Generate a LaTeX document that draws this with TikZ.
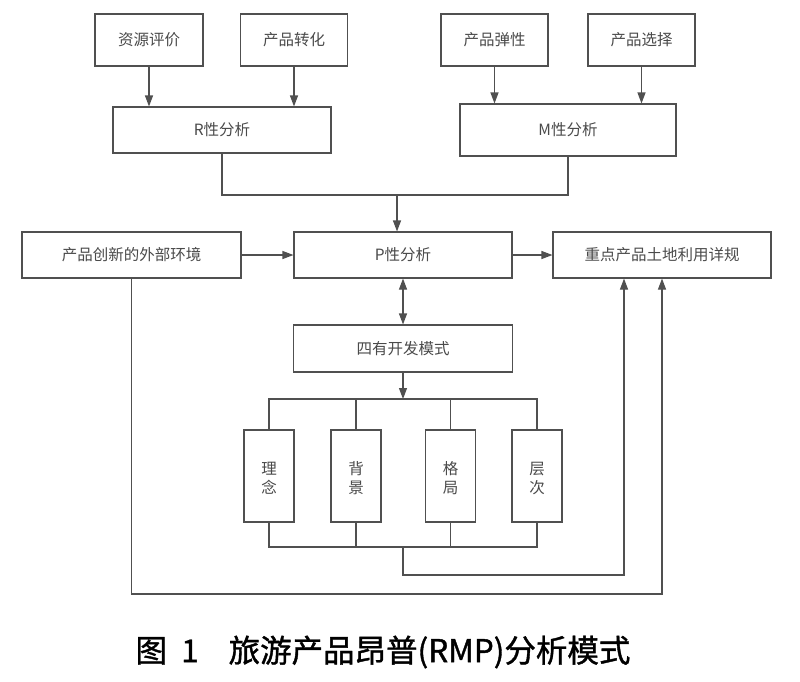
\documentclass[tikz,border=0pt]{standalone}
\usepackage{fontspec}
\setmainfont{Noto Sans CJK SC}
\newfontfamily\capfont{Noto Sans CJK SC}[FakeBold=1.2]
\usetikzlibrary{arrows.meta}
\definecolor{ln}{HTML}{505050}
\definecolor{tx}{HTML}{4A4A4A}
\newcommand{\vtxt}[2]{\raisebox{-7.5pt}[0pt][0pt]{\begin{tabular}{@{}c@{}}#1\\[0pt]#2\end{tabular}}}
\begin{document}
\begin{tikzpicture}[x=1pt,y=-1pt,
  box/.style={draw=ln, line width=1.1pt, rectangle, inner sep=0pt, text=tx,
    font=\fontsize{15.5}{18}\selectfont, anchor=center},
  vbox/.style={box, font=\fontsize{15.5}{19.5}\selectfont,
    minimum width=50pt, minimum height=92pt},
  link/.style={draw=ln, line width=1.1pt},
  arr/.style={link, -{Triangle[length=11pt,width=8pt]}},
  darr/.style={link, {Triangle[length=11pt,width=8pt]}-{Triangle[length=11pt,width=8pt]}},
]
\useasboundingbox (0,0) rectangle (800,681);
\fill[white] (0,0) rectangle (800,681);

% top row
\node[box, minimum width=108pt, minimum height=52pt] (zy) at (149,40) {资源评价};
\node[box, minimum width=107pt, minimum height=52pt] (zh) at (294,40) {产品转化};
\node[box, minimum width=107pt, minimum height=52pt] (tx) at (494.5,40) {产品弹性};
\node[box, minimum width=107pt, minimum height=52pt] (xz) at (641.5,40) {产品选择};

% second row
\node[box, minimum width=218pt, minimum height=46pt] (R) at (222,130) {R性分析};
\node[box, minimum width=216pt, minimum height=52pt] (M) at (568,130) {M性分析};

% third row
\node[box, minimum width=219pt, minimum height=46pt] (ext) at (131.5,255) {产品创新的外部环境};
\node[box, minimum width=218pt, minimum height=46pt] (P) at (403,255) {P性分析};
\node[box, minimum width=218pt, minimum height=46pt] (zd) at (662,255) {重点产品土地利用详规};

% four-have mode
\node[box, minimum width=219pt, minimum height=47pt] (sy) at (403,348.5) {四有开发模式};

% four vertical boxes
\node[vbox] (l1) at (269,476) {\vtxt{理}{念}};
\node[vbox] (l2) at (356,476) {\vtxt{背}{景}};
\node[vbox] (l3) at (450.5,476) {\vtxt{格}{局}};
\node[vbox] (l4) at (537,476) {\vtxt{层}{次}};

% junction coordinates
\coordinate (mj) at (397,195);
\coordinate (b1) at (403,399);
\coordinate (b2) at (403,547);
\coordinate (c1) at (624,575);
\coordinate (c2) at (662,594);

% arrows top
\draw[arr] (zy.south) -- (zy.south |- R.north);
\draw[arr] (zh.south) -- (zh.south |- R.north);
\draw[arr] (tx.south) -- (tx.south |- M.north);
\draw[arr] (xz.south) -- (xz.south |- M.north);

% merge R and M into P
\draw[link] (R.south) |- (mj) -| (M.south);
\draw[arr] (mj) -- (mj |- P.north);

% horizontal
\draw[arr] (ext.east) -- (P.west);
\draw[arr] (P.east) -- (zd.west);

% P <-> sy
\draw[darr] (P.south) -- (sy.north);

% sy to bus
\draw[arr] (sy.south) -- (b1);
\draw[link] (l1.north) -- (l1.north |- b1) -- (l4.north |- b1) -- (l4.north);
\draw[link] (l2.north) -- (l2.north |- b1);
\draw[link] (l3.north) -- (l3.north |- b1);

% bottom bus
\draw[link] (l1.south) -- (l1.south |- b2) -- (l4.south |- b2) -- (l4.south);
\draw[link] (l2.south) -- (l2.south |- b2);
\draw[link] (l3.south) -- (l3.south |- b2);

% loops to zd
\draw[arr] (b2) |- (c1) -- (c1 |- zd.south);
\draw[arr] (ext.south) |- (c2) -- (c2 |- zd.south);

% caption
\node[font=\capfont\fontsize{31.5}{36}\selectfont, text=black] (cap) at (383,652)
  {图\hspace{0.45em}1\hspace{0.95em}旅游产品昂普(RMP)分析模式};
\end{tikzpicture}
\end{document}
